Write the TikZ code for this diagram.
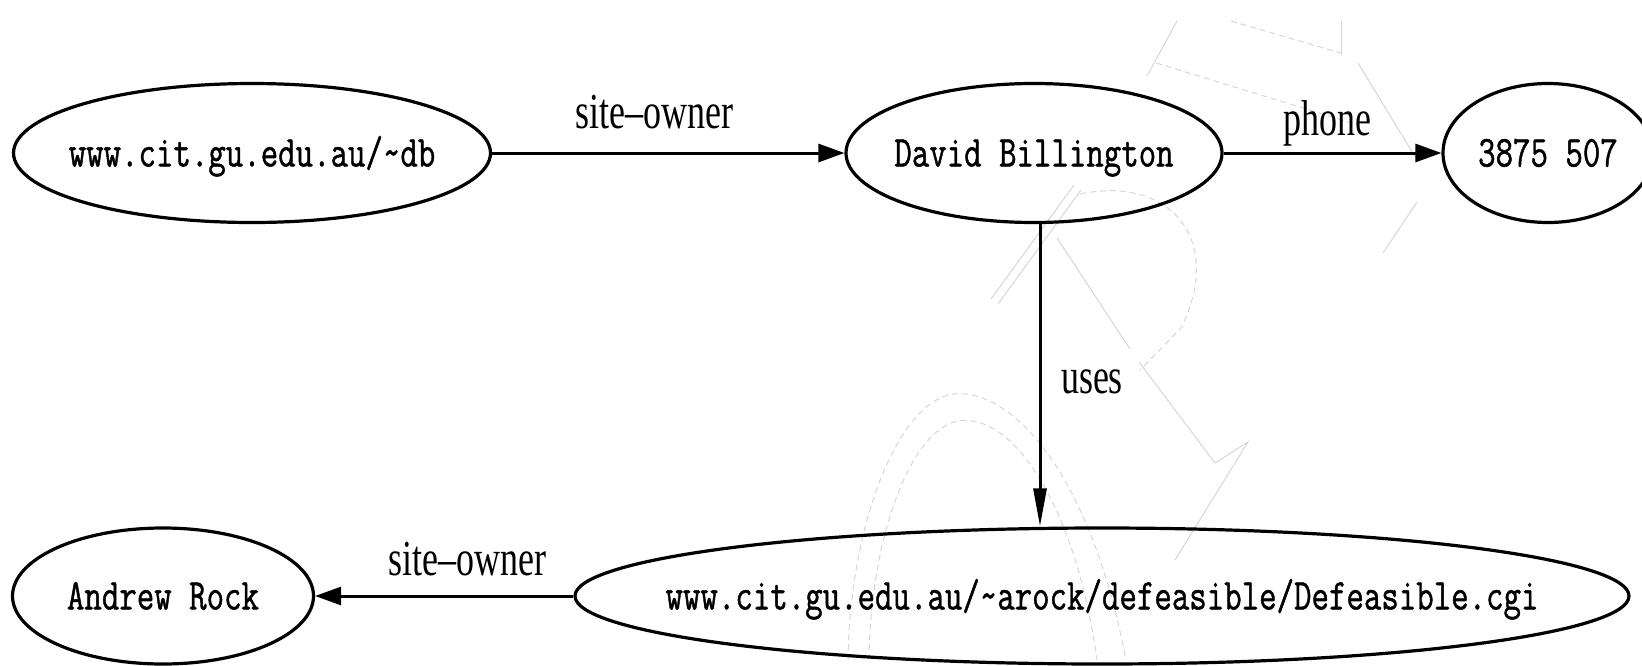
\documentclass[tikz,border=0pt]{standalone}
\usepackage{fontspec}
\usepackage{graphicx}
\setmainfont{Liberation Serif}
\newfontfamily\nodefont{Latin Modern Mono}[FakeBold=1.2]
\usetikzlibrary{shapes.geometric,arrows.meta}

% tall, narrow lettering used throughout the graph
\newcommand\tall[1]{\scalebox{1}[1.4]{#1}}
\newcommand\tallmono[1]{\makebox[0pt]{\scalebox{1}[1.3]{#1}}}

\tikzset{
  entity/.style={ellipse, draw, line width=3.2pt, inner sep=0pt,
    minimum height=139pt, font=\fontsize{33.9}{34}\nodefont,
    text height=26.9pt, text depth=0pt},
  rel/.style={line width=3pt},
  hhead/.style={-{Triangle[length=26pt,width=18pt]}},
  vhead/.style={-{Triangle[length=38pt,width=13pt]}},
  lbl/.style={anchor=base, inner sep=0pt, font=\fontsize{36}{36}\selectfont},
  bgline/.style={draw=black!16, line width=1pt},
  bgdash/.style={bgline, dash pattern=on 6pt off 4pt},
}

\begin{document}
\begin{tikzpicture}[x=1pt, y=-1pt]
  \useasboundingbox (0,0) rectangle (1642,665);

  % faint background mark
  \draw[bgline] (1147,76) -- (1177,21);
  \draw[bgdash] (1231,21) -- (1341,53);
  \draw[bgdash] (1156,63) -- (1349,122);
  \draw[bgline] (1341,21) -- (1341,55);
  \draw[bgline] (1358,63) -- (1417,160);
  \draw[bgline] (1383,253) -- (1417,202);
  \draw[bgline] (991,299) -- (1074,185);
  \draw[bgline] (998,304) -- (1081,190);
  \draw[bgline] (1057,238) -- (1130,349);
  \draw[bgline] (1139,362) -- (1215,463) -- (1248,442) -- (1175,560);
  \draw[bgdash] (1080,194) .. controls (1170,175) and (1225,240) .. (1181,328)
    -- (1140,370);
  \draw[bgdash] (848,660) .. controls (850,520) and (900,400) .. (954,394)
    .. controls (1010,388) and (1090,470) .. (1126,660);
  \draw[bgdash] (869,660) .. controls (870,540) and (910,430) .. (958,421)
    .. controls (1010,412) and (1075,500) .. (1097,660);

  % resources and their values
  \node[entity, minimum width=477pt] (db)    at (252,153)
    {\tallmono{www.cit.gu.edu.au/\textasciitilde db}};
  \node[entity, minimum width=376pt] (david) at (1034,153)
    {\tallmono{David Billington}};
  \node[entity, minimum width=210pt] (phone) at (1548,153)
    {\tallmono{3875 507}};
  \node[entity, minimum width=1054pt, minimum height=136pt] (cgi) at (1102,596)
    {\tallmono{www.cit.gu.edu.au/\textasciitilde arock/defeasible/Defeasible.cgi}};
  \node[entity, minimum width=301pt, minimum height=136pt] (andrew) at (163,596)
    {\tallmono{Andrew Rock}};

  % properties
  \draw[rel, hhead] (db.east) -- (david.west);
  \draw[rel, hhead] (david.east) -- (phone.west);
  \coordinate (ux) at (1040,0);
  \draw[rel, vhead] (david.south -| ux) -- (cgi.north -| ux);
  \draw[rel, hhead] (cgi.west) -- (andrew.east);

  % property names
  \node[lbl] (l1) at (654,128) {\tall{site--owner}};
  \node[lbl] (l2) at (1327,135) {\tall{phone}};
  \node[lbl] (l3) at (1092,393) {\tall{uses}};
  \node[lbl] (l4) at (467,575) {\tall{site--owner}};
\end{tikzpicture}
\end{document}
